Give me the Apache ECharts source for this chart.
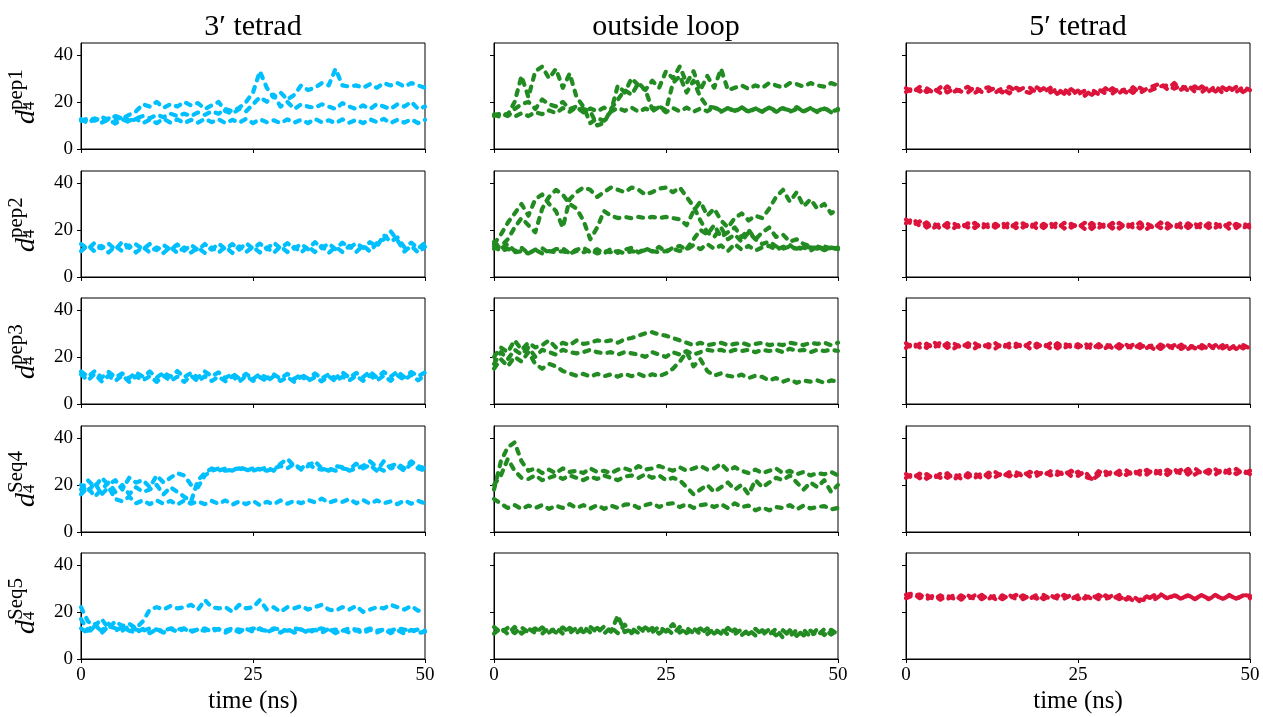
<!DOCTYPE html>
<html><head><meta charset="utf-8">
<script src="https://cdn.jsdelivr.net/npm/echarts@6/dist/echarts.min.js"></script>
<style>html,body{margin:0;padding:0;background:#fff}#c{width:1263px;height:717px}</style>
</head><body><div id="c"></div>
<script>
// ---------- data ----------
const time = [0,1,2,3,4,5,6,7,8,9,10,11,12,13,14,15,16,17,18,19,20,21,22,23,24,25,26,27,28,29,30,31,32,33,34,35,36,37,38,39,40,41,42,43,44,45,46,47,48,49,50];
const colTitles = ['3\u2032 tetrad', 'outside loop', '5\u2032 tetrad'];
const rowLabels = ['pep1', 'pep2', 'pep3', 'Seq4', 'Seq5'];
const xTicks = [0, 25, 50];
const yTicks = [0, 20, 40];
const xLabel = 'time (ns)';

// 3' tetrad
const tet3_pep1_a = [12.6,11,12.8,11.2,12.4,10.8,12.6,11.4,12.8,11, 12.4,11,12.8,11.2,12.6,11,12.4,11.2,12.8,11.4, 12.6,11,12.4,11.2,12.8,11,12.6,11.4,12.2,11, 12.6,11.2,12.4,11,12.8,11.4,12.2,11,12.6,11.2, 12.4,11,12.6,11.4,12.8,11,12.4,11.2,12.6,11, 12.4];
const tet3_pep1_b = [12,13,12,13.5,12.5,14,13,14.5,16,19, 18,20,17.5,19,18,20,18.5,19.5,17,18.5, 20,16,15,17,16,19,22,20,23,18, 20,17,19,18,17.5,19,18,17,19.5,18, 17,18.5,17,19,18,17,19,18,20,17, 18];
const tet3_pep1_c = [12.5,12,13,12,13,12.5,13.5,12,13,14, 13,14.5,13.5,15,14,15,14,15.5,14.5,16, 15,17,16,17.5,20,24,33,26,22,24, 21,23,27,25,26,28,27,34,27,26.5, 27,26,27.5,26,28,27,28,26.5,28,27, 26];
const tet3_pep2_a = [14,11.8,14.6,12.2,14.2,11.6,15,12.4,13.8,11.8, 14,11.4,13.6,11.6,13.8,11.2,13.6,11.4,14,11.6, 14.2,11.8,14,11.6,14.4,12,14.2,11.8,14.6,12.2, 14.4,12,14,11.8,14.8,12.2,14.2,11.8,14.6,12.4, 14.4,12.4,14.8,12.8,17.8,15,16.8,12.6,14.6,12.2, 14.4];
const tet3_pep2_b = [11,13.4,10.8,13.2,10.4,13,11,13.4,10.4,12.8, 10.4,12.6,10.2,12.8,10.2,12.6,10.4,12.4,10.2,12.6, 10.4,12.8,10.2,13,10.6,12.8,10.4,12.6,10.2,13, 10.6,12.8,10.4,13,10.6,13.2,10.2,12.8,10.6,13.2, 10.6,13.4,10.8,14.4,16,19.4,15.6,10.8,13.2,10.4, 12.8];
const tet3_pep3_a = [13.8,11.6,14,11.2,13.6,11.4,13,11,13.4,11.6, 13.8,11.2,13.4,11.6,14,11.4,13.2,11.2,13.8,11.8, 13.4,11,13,10.8,12.8,10.6,12.8,11,12.6,10.8, 12.8,10.6,12.6,10.8,13,10.8,12.6,11,13.4,11.2, 13.2,11.4,13.8,11.2,13.6,11.6,13.8,11.4,13.6,11.8, 13.4];
const tet3_pep3_b = [12.6,10,12.8,9.6,12,9.8,12.2,9.4,11.8,10, 11.8,9.4,12,9.8,11.6,9.4,12,9.6,11.8,9.8, 11.6,9.6,11.8,9.4,12,9.8,11.4,9.6,11.8,9.8, 11.4,9.4,11.6,9.8,11.4,9.6,11.8,9.6,11.6,10, 12,9.8,12.2,10,12,9.8,12.2,10.2,12.4,10, 12.2];
const tet3_Seq4_a = [18,22,19,23,20,22,18,23,21,22, 19,24,21,23,25,24,20,19,24,26, 27,26,26.5,27,26,27,26.5,27.5,26,29, 31,28,27,29,27,26.5,27,26,27,26.5, 29,27,28.5,26,30,27,28,26,29,27, 26];
const tet3_Seq4_b = [20,17,21,16,19,14,13,15,12.2,13.4, 11.8,13.4,12,13.2,11.6,13.4,12,13,11.8,13.2, 12,13.4,11.6,13,11.8,13.2,11.4,12.8,11.8,13.4, 12,13.2,12.2,13.6,12.6,14.2,12.4,13.4,12.8,14, 12.2,13.6,12,13.4,12.2,13,11.8,13.4,12,13.2, 12.2];
const tet3_Seq4_c = [16,19,15,18,21,17,20,16,19,17, 18,20,16,19,17,15,13,22,25,27, 26,27,26,27.5,26.5,26,27,26,27,28, 27,29,26.5,28,30,27,26,28,27.5,26, 27,28,30,27.5,26,28,29,27,30,28, 27];
const tet3_Seq5_a = [22,16,14,17,13,16,14,15,13,16, 21,22,21,22.5,21.5,22,23,21,25,22, 21.5,22,20,23,21.5,22,25,21,22,20, 22,21.5,22.5,21,22,23,21,20.5,22,21, 22.5,20,21,22,21.5,23,22,21,22.5,20.5, 21];
const tet3_Seq5_b = [13,11,14,12,15,12,13.5,12,11.2,12.8, 11,12.6,11.2,12.8,11.6,12.8,11.4,12.6,13,11.6, 12.8,11.2,12.6,11.4,12.8,11.6,13,11.4,12.6,11.2, 12.8,11.2,12.6,11,12.4,11.2,12.8,11,12.4,11.2, 12.2,11,12.4,11.2,12.6,11,12.2,10.8,12.4,11, 11.6];
const tet3_Seq5_c = [17,12,15,11,14,13,12,14,12.5,12, 13,12.5,12,13,12.5,13,12,12.5,12,13, 12.5,12,13,12.5,12,13,12.5,12,13,12.5, 12,13,12.5,12,12.5,13,12,12.5,12,13, 12.5,12,13,12,12.5,12,13,12.5,12,12.5, 12];

// outside loop
const loop_pep1_a = [14.6,13.6,15,13.8,15.2,14,15.6,14.8,16.4,15.2, 17.4,15.8,17.8,15.6,17.2,16,17.6,15.8,17.4,16.2, 17.6,15.8,17.2,16,17.8,15.6,17.4,16,17.6,15.8, 17.2,16,17.8,16.2,17.4,15.8,17.6,16,17.2,15.8, 17.6,16.2,17.4,15.8,17,16,17.4,15.6,17.2,16, 16.6];
const loop_pep1_b = [14,15,14.5,20,31,22,33,35,30,34, 26,32,22,18,11,13,12,16,27,24, 30,27,25,29,26,33,30,35,28,33, 25,31,26,34,25,26,27,25.5,27,26, 28,27,26,28,27.5,26.5,28,27,26.5,28, 27];
const loop_pep1_c = [14.5,15,14,17,19,20,17,21,19,18, 20,17,18,17,16,10,11,17,21,25, 23,28,25,17,18,16.5,28,31,24,29, 22,18,17.6,15.8,17.4,16.2,17.8,15.6,17.2,16, 17.6,15.8,17.2,16.4,17.8,15.8,17.4,16,17.6,15.6, 17];
const loop_pep2_a = [15,12,14,11,12.4,10,11.6,12.2,10.2,11.8, 12.2,10,11.6,12.4,10.4,11.8,10,12,10.2,11.6, 12.4,10.4,12.2,10.8,12.8,10.6,12.4,13.2,11.6,13.6, 11.8,14,12,13.4,11,14,11.6,13.2,11.2,12.6, 13.2,11.6,12.8,13.6,11.4,12.6,11.2,12.8,11.4,12.4, 11.8];
const loop_pep2_b = [14,18,23,27,31,26,33,35,31,28, 21,33,36,38,37,34,36,38,37,36, 38,37,35,36,37.5,38,36,38,34,30, 24,19,17,21,16,18,15,19,16,14, 15,13,12,13,12,13,12.5,13,12,12.5, 12];
const loop_pep2_c = [12,13,16,21,25,22,19,29,34,37, 35,31,29,24,16,21,28,26,25,25.5, 25,25.5,25,25.5,25,25.5,25,24.5,22,28, 32,26,29,24,21,25,27,24,26,25, 29,34,37,32,36,30,33,29,31,27, 29];
const loop_pep2_d = [13,11,12,10.5,11,10,11.5,10,11,10.5, 11,10,11,10.5,11.5,10,11,10.5,11,10, 11,10.5,11.5,11,10.5,11,12,11,12,16, 20,18,22,17,19,21,17,20,16,19, 21,17,18,15,16,14,13,12,13,12, 12.5];
const loop_pep3_a = [20,24,22,27,23,26,24,25,27,24, 26,25,27,25.5,26,27,26.5,27,26,27.5, 28,29,30,30.5,29.5,29,28,27,26,25, 26,25,25.5,26,25,25.5,26,25,25.5,26, 25,25.5,25,26,25.5,25,26,25.5,26,25, 26];
const loop_pep3_b = [17,22,19,23,21,24,20,23,22,21, 23,22,21.5,22,23,22,21.5,22,21,22, 21.5,21,20,22,21,20,22,21,22.5,21, 22,23,22.5,23,22,23,22.5,23,22,23, 22.5,23,22,23.5,22.5,23,22,23,22.5,23, 22.5];
const loop_pep3_c = [15,19,16,20,18,22,17,15,17,16, 14,13,12,12.8,11.6,12.8,11.8,12.6,11.6,12.8, 11.8,12.8,11.6,12.6,11.8,13,15,18,22,16, 19,14,12,13,12,11.5,12.5,11,12,11.5, 10,11,9.5,10.5,9,10,9.5,10,9,10, 9.5];
const loop_Seq4_a = [18,30,36,38,30,26,27,25,26.5,25, 27,25.5,26,25,27,25.5,26,25,26.5,27, 26,28,26.5,27,28,27,26,27.5,26,27, 28,26.5,27,29,26,27.5,26,25,26.5,25, 26,27,25,26,24.5,25.5,24,25,24.5,25.5, 24];
const loop_Seq4_b = [20,24,31,26,23,22.5,24,22,23,24, 22.5,24,23,22,23.5,22.5,24,23,22,23.5, 24,23,24.5,23,24,22,23,22,19,16, 18,20,17,19,21,18,20,16,22,19, 21,23,22,24,21,18,21,19,22,17, 20];
const loop_Seq4_c = [14,12,10.2,11.4,9.8,11.2,10.2,11.4,9.8,11.2, 10.2,11.8,10.2,11.4,10,11.4,9.8,11.2,10.2,11.6, 11.8,10.2,11.4,12.2,10.6,11.8,12.2,10.6,11.8,10.2, 11.4,11.8,10.6,11.8,10.2,12.2,10.6,11.2,9.2,10.4, 9.2,10.6,10.2,11.4,9.6,11.2,10,10.6,11,9.6, 10.2];
const loop_Seq5_a = [13.6,11.2,13.2,11,13.4,11.4,13,10.8,13.2,11.2, 13.4,11,13.2,11.4,13.6,11.2,13.8,11.6,18.4,11.4, 13,11,13.4,11.4,13.8,11.6,14.8,11.2,13.2,11, 13,10.6,12.8,10.8,13.2,10.6,12.6,10.6,12.8,10.2, 12.6,10,12.2,9.6,12.4,10,12,10,12.6,10.4, 12.4];
const loop_Seq5_b = [10.8,13.2,10.6,13.6,10.8,13,11,13.4,11.2,13.2, 10.8,13.2,11,13.8,11.2,13.2,10.8,13.4,11,14.6, 11,13.4,11.2,13.2,10.8,13,10.6,13.6,11,13, 10.6,13,10.8,12.8,10.4,12.6,10.2,12.4,10,12.2, 10.4,12.8,9,12.2,9.8,12.4,9.4,12.8,10.2,12.4, 10.4];

// 5' tetrad
const tet5_pep1_a = [25.8,24,26.4,24.2,25.6,23.8,26.6,24.4,25.2,26.4, 23.8,25.6,26.2,24,25.8,23.6,26,24.6,23.8,26.2, 24.2,26,23.4,25.4,22.8,24.8,22.6,25.2,23.2,25.8, 23.6,25.8,24,26.2,23.8,25.6,26.8,27.8,25.4,28, 25.2,27,24.2,26.6,24.4,26.8,23.8,26,24.2,26.4, 25];
const tet5_pep1_b = [24.2,26,24.4,25.8,23.8,26.2,24,25.6,24.4,24, 26.4,24.2,24.6,26,24,26.4,24.4,25.8,26,24, 25.8,24,25.6,23.4,25.4,23.2,24.8,23,25.2,23.6, 25.8,23.8,25.8,23.8,26,24.2,25.4,26.6,27,25.6, 27,24.8,26.6,24.2,26.4,24.4,26.2,24.2,26.4,24.2, 26];
const tet5_pep2_a = [24.4,22,23.6,21,22.8,20.6,23,20.8,22.8,21, 23,20.6,22.6,21,23,20.4,22.8,21,23,20.6, 22.6,20.8,23.2,20.6,22.6,21,23,20.4,22.8,20.8, 23,20.6,22.8,21,23.2,20.4,22.6,20.8,22.8,20.6, 23,20.8,22.6,20.6,22.8,21,23,20.4,22.6,20.8, 22.4];
const tet5_pep2_b = [22.8,24.8,21.6,23.2,20.8,22.8,21,22.6,20.6,22.8, 20.8,23,21,22.6,20.6,23.2,20.8,22.8,20.6,23, 20.8,22.8,20.6,23,21,22.6,20.4,23,20.8,22.8, 20.6,23,20.8,22.6,20.6,22.8,20.8,23.2,20.6,22.6, 21,22.8,20.6,23,20.8,22.6,20.6,22.8,20.8,23, 20.8];
const tet5_pep3_a = [25.8,23.6,25.6,23.8,26.4,24,25.8,23.6,25.6,24.2, 25.8,23.8,25.4,23.6,25.8,24,25.6,23.8,26,24, 25.6,23.6,25.8,23.8,25.4,24,25.8,23.2,25.4,23.8, 25.4,23.6,25.2,23.4,25.4,23.8,25.2,23.4,25,23.2, 25.2,23.4,25,23.6,25.2,23,25,23.4,25.2,23.6, 25];
const tet5_pep3_b = [23.8,26,24,25.6,23.6,26.2,23.8,25.6,24,25.8, 23.6,25.6,24,25.8,23.6,25.6,24.2,25.8,23.6,25.6, 24,25.8,23.6,25.6,24.2,25.4,23.4,25.6,24,25.4, 23.8,25.4,23.6,25.2,23.8,25.4,23.4,25.2,23.6,25, 23.4,25.2,23.6,25,23.2,25,23.6,25.2,23.4,25, 23.6];
const tet5_Seq4_a = [24.6,22.8,24.8,22.6,24.4,23,25,22.4,24.6,23.2, 24.8,22.8,25.2,23.4,25,23.6,25.4,23.6,25.6,23.8, 25.8,24,25.6,24.2,26,23.8,25.8,22,24.2,25.6, 24,26,24.2,26.2,24.4,26.4,24.4,26,24.2,26.6, 24.6,26.8,24.4,26.2,24.8,26.6,24.4,26.4,24.6,26.2, 24.6];
const tet5_Seq4_b = [23,24.8,22.8,24.6,22.6,24.8,23,24.6,22.6,25, 23,25,23.2,25.4,23.4,25.4,23.8,25.6,23.6,25.4, 24,25.8,24.2,26,23.8,25.6,23.4,22.6,25.8,24, 25.8,24.2,26.2,24,26,24.4,26.6,24.6,26.4,24.8, 26.4,24.4,27,24.8,26.4,24.4,26.8,25,26.8,24.6, 26];
const tet5_Seq5_a = [27.2,27.8,25.8,27.2,25.4,27,25.4,27.2,25.2,27, 25.4,27.2,25.6,27,25.4,27.2,25.4,27,25.6,27.2, 25.4,27,25.6,27.2,25.4,27,25.6,27.2,25.4,27, 25.4,27.2,25.2,26.8,24.4,26.6,25,27,25.8,27.4, 25.4,27,25.6,27.2,25.4,27,25.6,27.2,25.4,27, 25.8];
const tet5_Seq5_b = [25.8,27,27.4,25.4,27,25.2,26.8,25.6,27,25.4, 27,25.4,27.2,25.4,27,25.6,27.2,25.4,27,25.6, 27.2,25.4,27,25.6,27.2,25.4,26.8,25.6,27.2,25.4, 27,25.4,26.8,24.8,25.2,25,27,27.6,25.6,27, 25.6,27.2,25.4,27,25.6,27.2,25.4,27,25.6,27.2, 26.8];

const panels = [
  [[tet3_pep1_a, tet3_pep1_b, tet3_pep1_c], [loop_pep1_a, loop_pep1_b, loop_pep1_c], [tet5_pep1_a, tet5_pep1_b]],
  [[tet3_pep2_a, tet3_pep2_b], [loop_pep2_a, loop_pep2_b, loop_pep2_c, loop_pep2_d], [tet5_pep2_a, tet5_pep2_b]],
  [[tet3_pep3_a, tet3_pep3_b], [loop_pep3_a, loop_pep3_b, loop_pep3_c], [tet5_pep3_a, tet5_pep3_b]],
  [[tet3_Seq4_a, tet3_Seq4_b, tet3_Seq4_c], [loop_Seq4_a, loop_Seq4_b, loop_Seq4_c], [tet5_Seq4_a, tet5_Seq4_b]],
  [[tet3_Seq5_a, tet3_Seq5_b, tet3_Seq5_c], [loop_Seq5_a, loop_Seq5_b], [tet5_Seq5_a, tet5_Seq5_b]]
];

// ---------- layout / style ----------
const colors = ['#00BFFF', '#228B22', '#DC143C'];
const lefts = [81, 494, 906];
const tops = [43, 171, 298, 426, 553];
const W = 344, H = 106;
const FONT = '"Liberation Serif", "DejaVu Serif", serif';

const grid = [], xAxis = [], yAxis = [], series = [], graphic = [];
let gi = 0;
for (let r = 0; r < 5; r++) {
  for (let c = 0; c < 3; c++) {
    grid.push({left: lefts[c], top: tops[r], width: W, height: H, show: true,
      borderColor: '#000', borderWidth: 1, backgroundColor: 'transparent', containLabel: false});
    xAxis.push({type: 'value', gridIndex: gi, min: 0, max: 50, interval: 25,
      axisLine: {show: true, onZero: false, lineStyle: {color: '#000', width: 1}},
      axisTick: {show: true, inside: false, length: 4, lineStyle: {color: '#000'}, customValues: xTicks},
      axisLabel: {show: r === 4, color: '#000', fontFamily: FONT, fontSize: 19, margin: 7, customValues: xTicks},
      splitLine: {show: false}});
    yAxis.push({type: 'value', gridIndex: gi, min: 0, max: 45, interval: 20,
      axisLine: {show: true, onZero: false, lineStyle: {color: '#000', width: 1}},
      axisTick: {show: true, inside: false, length: 4, lineStyle: {color: '#000'}, customValues: yTicks},
      axisLabel: {show: c === 0, color: '#000', fontFamily: FONT, fontSize: 19, margin: 8, customValues: yTicks},
      splitLine: {show: false}});
    panels[r][c].forEach(vals => {
      series.push({type: 'line', xAxisIndex: gi, yAxisIndex: gi, showSymbol: false, symbol: 'none',
        data: time.map((t, i) => [t, vals[i]]),
        lineStyle: {color: colors[c], width: 4.2, type: [5, 7], cap: 'round', join: 'round'},
        emphasis: {disabled: true}, animation: false, silent: true});
    });
    gi++;
  }
}

function txt(x, y, text, font) {
  return {type: 'text', x: x, y: y,
    style: {text: text, font: font, fill: '#000', align: 'center', textAlign: 'center',
      verticalAlign: 'middle', textVerticalAlign: 'middle'}};
}
colTitles.forEach((t, c) => graphic.push(txt(lefts[c] + W / 2, 27, t, '30px ' + FONT)));
[0, 2].forEach(c => graphic.push(txt(lefts[c] + W / 2, 701, xLabel, '25px ' + FONT)));

rowLabels.forEach((lab, r) => {
  const cy = tops[r] + H / 2;
  const mk = (x, y, text, font) => ({type: 'text', x: x, y: y,
    style: {text: text, font: font, fill: '#000', align: 'left', textAlign: 'left',
      verticalAlign: 'middle', textVerticalAlign: 'middle'}});
  graphic.push({type: 'group', x: 27, y: cy, rotation: Math.PI / 2, children: [
    mk(-28, 0, 'd', 'italic 28px ' + FONT),
    mk(-14, 3, '4', '17px ' + FONT),
    mk(-14, -11, lab, '21px ' + FONT)
  ]});
});

const chart = echarts.init(document.getElementById('c'), null, {renderer: 'canvas'});
chart.setOption({animation: false, backgroundColor: '#fff', grid, xAxis, yAxis, series, graphic});
</script>
</body></html>
